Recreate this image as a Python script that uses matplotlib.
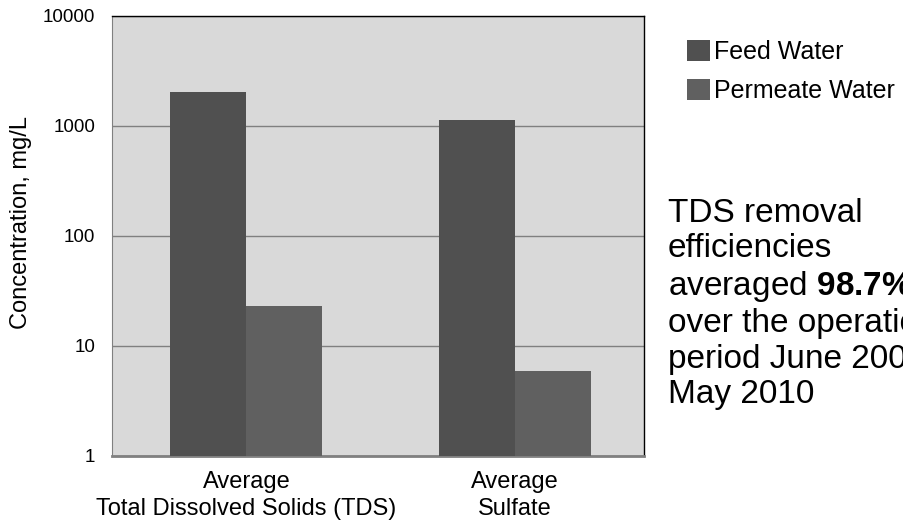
import matplotlib.pyplot as plt
import numpy as np

# ==============================
# DATA
# ==============================

categories = ["Average\nTotal Dissolved Solids (TDS)", "Average\nSulfate"]
feed_water = [2040, 1140]
permeate_water = [23, 5.9]
series_names = ["Feed Water", "Permeate Water"]

plt.rcParams['font.family'] = ['Liberation Sans', 'DejaVu Sans']
plt.rcParams['mathtext.fontset'] = 'custom'
plt.rcParams['mathtext.rm'] = 'Liberation Sans'
plt.rcParams['mathtext.bf'] = 'Liberation Sans:bold'

fig = plt.figure(figsize=(9.04, 5.25), dpi=100)
ax = fig.add_axes([112 / 904, 1 - 456 / 525, 532 / 904, 440 / 525])

x = np.arange(len(categories))
w = 0.283
ax.bar(x - w / 2, feed_water, w, color="#505050", label=series_names[0], zorder=3)
ax.bar(x + w / 2, permeate_water, w, color="#606060", label=series_names[1], zorder=3)

ax.set_yscale("log")
ax.set_ylim(1, 10000)
ax.set_xlim(-0.5, 1.48)
ax.set_facecolor("#d9d9d9")
ax.yaxis.grid(True, color="#808080", linewidth=1, zorder=0)
ax.minorticks_off()
ax.set_yticks([1, 10, 100, 1000, 10000])
ax.set_yticklabels(["1", "10", "100", "1000", "10000"], fontsize=13.5)
ax.set_xticks(x)
ax.set_xticklabels(categories, fontsize=17, linespacing=1.3)
ax.tick_params(axis="y", length=0, pad=12)
ax.tick_params(axis="x", length=0, pad=11)
ax.set_ylabel("Concentration, mg/L", fontsize=17)
ax.yaxis.set_label_coords(-80 / 532, 0.53)

for s in ["top", "right"]:
    ax.spines[s].set_color("black")
    ax.spines[s].set_linewidth(1)
ax.spines["left"].set_color("#808080")
ax.spines["bottom"].set_color("#808080")
ax.spines["bottom"].set_linewidth(2)

fig.legend(loc="upper left", bbox_to_anchor=(687 / 904, 1 - 40 / 525), frameon=False,
           fontsize=18, handlelength=0.9, handleheight=0.9, handletextpad=0.2,
           labelspacing=0.6, borderaxespad=0, borderpad=0)

fig.text(668 / 904, 1 - 403 / 525,
         "TDS removal\nefficiencies\naveraged $\\mathbf{98.7\\%}$\nover the operation\nperiod June 2009 -\nMay 2010",
         fontsize=24, va="baseline", ha="left", linespacing=1.18)

fig.savefig("out.png", dpi=100)
